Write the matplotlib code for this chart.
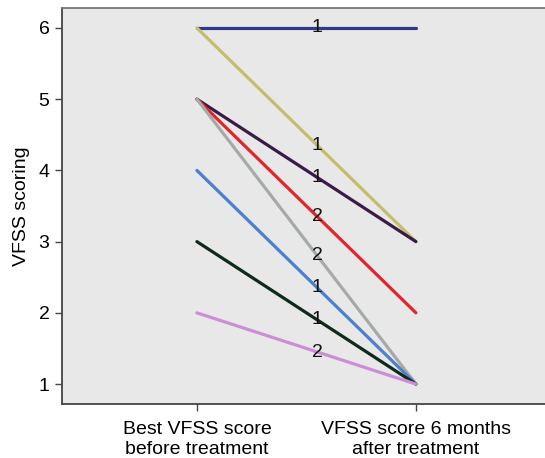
import matplotlib.pyplot as plt

plt.rcParams['font.family'] = ['Liberation Sans', 'DejaVu Sans']

# VFSS scores per patient group: before treatment -> 6 months after
before = [6, 6, 5, 5, 5, 4, 3, 2]
after = [6, 3, 3, 2, 1, 1, 1, 1]
counts = [1, 1, 1, 2, 2, 1, 1, 2]
colors = ['#2c3a8a', '#c4bd6c', '#3a1b48', '#e1262b', '#a5aaa9',
          '#4a80cf', '#0e2a18', '#cc8ed6']
xlabels = ['Best VFSS score\nbefore treatment', 'VFSS score 6 months\nafter treatment']

fig = plt.figure(figsize=(5.45, 4.58), dpi=100)
ax = fig.add_axes([62 / 545, 1 - 404 / 458, 483 / 545, (404 - 8) / 458])
ax.set_facecolor('#e8e8e8')

label_pos = 0.55
for b, a, n, c in zip(before, after, counts, colors):
    ax.plot([0, 1], [b, a], color=c, lw=2.3, solid_capstyle='round', zorder=2)
    ax.text(label_pos, b + (a - b) * label_pos, str(n), ha='center', va='center',
            fontsize=14, color='#111111', zorder=3)

ax.set_xlim(-0.616, -0.616 + 483 / 219)
ax.set_ylim(0.72, 6.28)
ax.set_xticks([0, 1])
ax.set_xticklabels(xlabels, fontsize=14, linespacing=1.25)
ax.set_yticks([1, 2, 3, 4, 5, 6])
ax.tick_params(axis='y', labelsize=14)
ax.tick_params(length=5, width=1, color='#444444', pad=4)
ax.tick_params(axis='x', pad=7)
ax.set_ylabel('VFSS scoring', fontsize=14, labelpad=6)
ax.spines['right'].set_visible(False)
for s in ['left', 'bottom']:
    ax.spines[s].set_color('#444444')
    ax.spines[s].set_linewidth(1.3)
ax.spines['top'].set_color('#777777')
ax.spines['top'].set_linewidth(1.3)

fig.savefig('out.png', dpi=100)
